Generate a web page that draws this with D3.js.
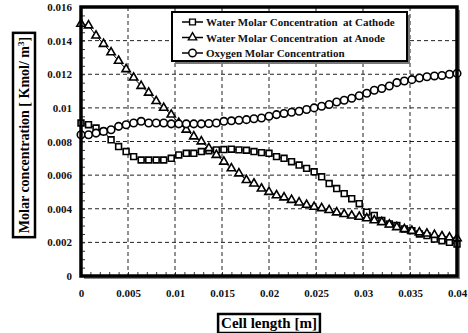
<!DOCTYPE html>
<html>
<head>
<meta charset="utf-8">
<style>
	body { margin: 0; background: #fff; }
	svg { display: block; font-family: "Liberation Serif", "Times New Roman", serif; font-weight: bold; }
</style>
</head>
<body>
<svg width="468" height="333"></svg>
<script src="https://d3js.org/d3.v7.min.js"></script>
<script>
	const svg = d3.select("svg");
	const margin = { top: 7, right: 11, bottom: 57, left: 81 }; // plot box
	const width = +svg.attr("width") - margin.left - margin.right;
	const height = +svg.attr("height") - margin.top - margin.bottom;

	// cell length [m]
	const cellLength = [0, 0.0008, 0.0016, 0.0024, 0.0032, 0.004, 0.0048, 0.0056, 0.0064, 0.0072,
		0.008, 0.0088, 0.0096, 0.0104, 0.0112, 0.012, 0.0128, 0.0136, 0.0144, 0.0152,
		0.016, 0.0168, 0.0176, 0.0184, 0.0192, 0.02, 0.0208, 0.0216, 0.0224, 0.0232,
		0.024, 0.0248, 0.0256, 0.0264, 0.0272, 0.028, 0.0288, 0.0296, 0.0304, 0.0312,
		0.032, 0.0328, 0.0336, 0.0344, 0.0352, 0.036, 0.0368, 0.0376, 0.0384, 0.0392, 0.04];

	const waterCathode = [0.0091, 0.009, 0.0088, 0.0086, 0.0081, 0.0077, 0.0074, 0.0071, 0.0069, 0.0069,
		0.0069, 0.0069, 0.007, 0.0072, 0.0073, 0.0073, 0.0074, 0.00745, 0.0075, 0.00752,
		0.00754, 0.0075, 0.00748, 0.0074, 0.00734, 0.0073, 0.0071, 0.007, 0.0068, 0.0066,
		0.0064, 0.0062, 0.0059, 0.0055, 0.0052, 0.0049, 0.0046, 0.0043, 0.0038, 0.0036,
		0.0033, 0.0031, 0.003, 0.0028, 0.0027, 0.0025, 0.0024, 0.0022, 0.0021, 0.002, 0.0019];

	const waterAnode = [0.015, 0.0149, 0.0143, 0.0138, 0.0133, 0.0128, 0.0123, 0.0118, 0.0113, 0.0109,
		0.0104, 0.01, 0.0096, 0.0091, 0.0087, 0.0083, 0.008, 0.0076, 0.0072, 0.0068,
		0.0064, 0.0061, 0.0057, 0.0055, 0.0052, 0.005, 0.0048, 0.00467, 0.00452, 0.00437,
		0.00423, 0.00411, 0.00403, 0.00392, 0.00378, 0.00368, 0.00359, 0.00352, 0.00343, 0.00331,
		0.0032, 0.00306, 0.0029, 0.00278, 0.00268, 0.00259, 0.00252, 0.00244, 0.00236, 0.0023, 0.00224];

	const oxygen = [0.0084, 0.0084, 0.0085, 0.0086, 0.0087, 0.0089, 0.009, 0.0091, 0.0092, 0.0091,
		0.0091, 0.0091, 0.00905, 0.00905, 0.00905, 0.00905, 0.00905, 0.00907, 0.0091, 0.0092,
		0.00923, 0.00926, 0.0093, 0.00935, 0.0094, 0.0095, 0.0096, 0.00967, 0.00974, 0.0098,
		0.0099, 0.01, 0.0101, 0.0102, 0.01035, 0.01045, 0.01057, 0.01072, 0.01087, 0.01105,
		0.01115, 0.0113, 0.0115, 0.0116, 0.01168, 0.01178, 0.01185, 0.0119, 0.01193, 0.012, 0.01205];

	const seriesNames = ["Water Molar Concentration  at Cathode", "Water Molar Concentration  at Anode", "Oxygen Molar Concentration"];
	const xTicks = [0, 0.005, 0.01, 0.015, 0.02, 0.025, 0.03, 0.035, 0.04];
	const yTicks = [0, 0.002, 0.004, 0.006, 0.008, 0.01, 0.012, 0.014, 0.016];

	const series = [
		{ name: seriesNames[0], values: waterCathode, symbol: d3.symbolSquare, size: 34 },
		{ name: seriesNames[1], values: waterAnode, symbol: d3.symbolTriangle, size: 30 },
		{ name: seriesNames[2], values: oxygen, symbol: d3.symbolCircle, size: 44 },
	];

	const x = d3.scaleLinear().domain([0, 0.04]).range([0, width]);
	const y = d3.scaleLinear().domain([0, 0.016]).range([height, 0]);

	const g = svg.append("g").attr("transform", "translate(" + margin.left + "," + margin.top + ")");

	// shadow + white plot area
	g.append("rect").attr("x", 3).attr("y", 3).attr("width", width).attr("height", height).attr("fill", "#8a8a8a");
	g.append("rect").attr("width", width).attr("height", height).attr("fill", "#fff");

	// dashed grid
	g.append("g")
		.selectAll("line")
		.data(xTicks.slice(1, -1))
		.join("line")
		.attr("x1", (d) => x(d)).attr("x2", (d) => x(d))
		.attr("y1", 0).attr("y2", height)
		.attr("stroke", "#222").attr("stroke-width", 1).attr("stroke-dasharray", "4,3");
	g.append("g")
		.selectAll("line")
		.data(yTicks.slice(1, -1))
		.join("line")
		.attr("y1", (d) => y(d)).attr("y2", (d) => y(d))
		.attr("x1", 0).attr("x2", width)
		.attr("stroke", "#222").attr("stroke-width", 1).attr("stroke-dasharray", "4,3");

	// minor ticks inside the frame
	g.append("g")
		.attr("transform", "translate(0," + height + ")")
		.call(d3.axisBottom(x).ticks(40).tickSize(-4).tickFormat(""))
		.call((a) => a.select(".domain").remove())
		.selectAll("line").attr("stroke", "#333");
	g.append("g")
		.call(d3.axisLeft(y).ticks(40).tickSize(-4).tickFormat(""))
		.call((a) => a.select(".domain").remove())
		.selectAll("line").attr("stroke", "#333");

	// tick labels
	const xAxis = g.append("g")
		.attr("transform", "translate(0," + height + ")")
		.call(d3.axisBottom(x).tickValues(xTicks).tickSize(0).tickPadding(13).tickFormat((d) => d3.format("")(+d.toFixed(3))));
	xAxis.select(".domain").remove();
	const yAxis = g.append("g")
		.call(d3.axisLeft(y).tickValues(yTicks).tickSize(0).tickPadding(9).tickFormat((d) => d3.format("")(+d.toFixed(3))));
	yAxis.select(".domain").remove();
	svg.selectAll(".tick text")
		.attr("font-family", "Liberation Serif, serif")
		.attr("font-weight", "bold")
		.attr("font-size", 11)
		.attr("fill", "#111");

	// series
	const line = d3.line().x((d, i) => x(cellLength[i])).y((d) => y(d));
	series.forEach((s) => {
		g.append("path").datum(s.values).attr("d", line).attr("fill", "none").attr("stroke", "#000").attr("stroke-width", 1);
		g.append("g")
			.selectAll("path")
			.data(s.values)
			.join("path")
			.attr("transform", (d, i) => "translate(" + x(cellLength[i]) + "," + y(d) + ")")
			.attr("d", d3.symbol(s.symbol, s.size))
			.attr("fill", "#fff")
			.attr("stroke", "#000")
			.attr("stroke-width", 1.6);
	});

	// frame
	g.append("rect").attr("width", width).attr("height", height)
		.attr("fill", "none").attr("stroke", "#000").attr("stroke-width", 3.5);

	// legend
	const lg = svg.append("g").attr("transform", "translate(172,12)");
	lg.append("rect").attr("x", 3).attr("y", 3).attr("width", 235).attr("height", 49).attr("fill", "#777");
	lg.append("rect").attr("width", 235).attr("height", 49).attr("fill", "#fff").attr("stroke", "#000").attr("stroke-width", 2);
	series.forEach((s, i) => {
		const row = lg.append("g").attr("transform", "translate(0," + (10 + i * 15.5) + ")");
		row.append("line").attr("x1", 10).attr("x2", 31).attr("stroke", "#000").attr("stroke-width", 1.5);
		row.append("path").attr("transform", "translate(20.5,0)").attr("d", d3.symbol(s.symbol, s.size))
			.attr("fill", "#fff").attr("stroke", "#000").attr("stroke-width", 1.4);
		row.append("text").attr("x", 34).attr("y", 4).attr("font-size", 11).attr("fill", "#111")
			.style("white-space", "pre").text(s.name);
	});

	// axis titles in boxes
	const yt = svg.append("g").attr("transform", "translate(24,135) rotate(-90)");
	const ytText = yt.append("text").attr("text-anchor", "middle").attr("y", 5).attr("font-size", 14).attr("fill", "#000");
	ytText.append("tspan").text("Molar concentration [ Kmol/ m");
	ytText.append("tspan").attr("dy", -5).attr("font-size", 9).text("3");
	ytText.append("tspan").attr("dy", 5).text("]");
	const yb = ytText.node().getBBox();
	yt.insert("rect", "text").attr("x", yb.x - 4).attr("y", -11).attr("width", yb.width + 8).attr("height", 22)
		.attr("fill", "#fff").attr("stroke", "#000").attr("stroke-width", 2.5);

	const xt = svg.append("g").attr("transform", "translate(269,323)");
	const xtText = xt.append("text").attr("text-anchor", "middle").attr("y", 5).attr("font-size", 15).attr("fill", "#000").text("Cell length [m]");
	const xb = xtText.node().getBBox();
	xt.insert("rect", "text").attr("x", xb.x - 3).attr("y", -9).attr("width", xb.width + 6).attr("height", 19)
		.attr("fill", "#fff").attr("stroke", "#000").attr("stroke-width", 2.5);
</script>
</body>
</html>
